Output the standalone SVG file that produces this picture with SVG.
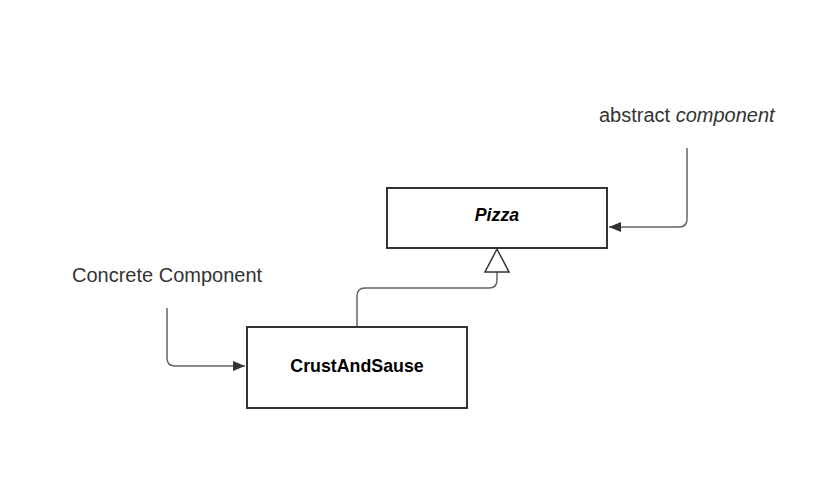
<svg xmlns="http://www.w3.org/2000/svg" width="839" height="499" viewBox="0 0 839 499">
<style>
.box{fill:#fff;stroke:#333;stroke-width:2}
.lbl{font-family:"Liberation Sans",Arial,sans-serif;font-size:17.8px;font-weight:bold;fill:#000;text-anchor:middle}
.note{font-family:"Liberation Sans",Arial,sans-serif;font-size:20px;fill:#333}
.con{fill:none;stroke:#666;stroke-width:1.5}
</style>
<defs>
<marker id="arr" markerWidth="12" markerHeight="10" refX="12" refY="5" orient="auto" markerUnits="userSpaceOnUse">
<path d="M0,0 L12,5 L0,10 z" fill="#333"/>
</marker>
</defs>
<rect width="839" height="499" fill="#fff"/>
<g id="connectors">
<path class="con" d="M687,148 V219 Q687,227 679,227 H609" marker-end="url(#arr)"/>
<path class="con" d="M167,308 V358 Q167,366 175,366 H245" marker-end="url(#arr)"/>
<path class="con" d="M357,327 V296 Q357,288 365,288 H489 Q497,288 497,280 V272"/>
<path d="M497,249 L509,272 L485,272 z" fill="#fff" stroke="#333" stroke-width="1.5"/>
</g>
<g id="pizza">
<rect class="box" x="387" y="188" width="220" height="60"/>
<text class="lbl" x="497" y="221" font-style="italic">Pizza</text>
</g>
<g id="crust">
<rect class="box" x="247" y="327" width="220" height="81"/>
<text class="lbl" x="357" y="372">CrustAndSause</text>
</g>
<g id="note-abstract">
<text class="note" x="599" y="122">abstract <tspan font-style="italic">component</tspan></text>
</g>
<g id="note-concrete">
<text class="note" x="72" y="282">Concrete Component</text>
</g>
</svg>
